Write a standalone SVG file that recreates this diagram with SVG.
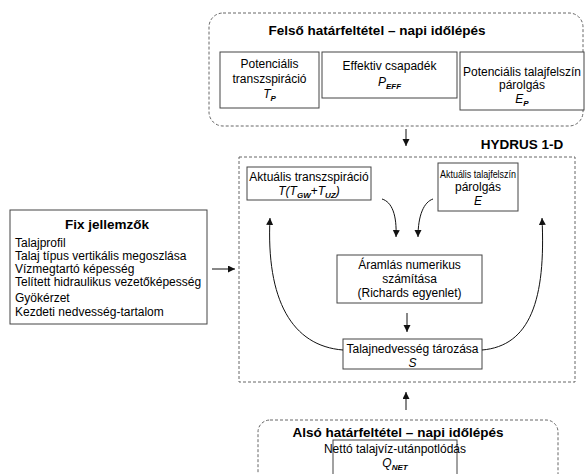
<svg xmlns="http://www.w3.org/2000/svg" width="586" height="474" viewBox="0 0 586 474">
<defs>
<marker id="ah" markerUnits="userSpaceOnUse" markerWidth="8" markerHeight="8" refX="7" refY="3.5" orient="auto">
<path d="M0,0 L7,3.5 L0,7 z" fill="#111"/>
</marker>
<style>
.bx{fill:#fff;stroke:#444;stroke-width:1}
.dash{fill:none;stroke:#666;stroke-width:1;stroke-dasharray:3,2}
.t{font-family:"Liberation Sans",Arial,sans-serif;font-size:12px;fill:#000;text-anchor:middle}
.l{font-family:"Liberation Sans",Arial,sans-serif;font-size:12px;fill:#000}
.h{font-family:"Liberation Sans",Arial,sans-serif;font-size:13.5px;font-weight:bold;fill:#000;text-anchor:middle}
.i{font-style:italic}
.sub{font-size:8px;font-weight:bold;font-style:italic}
.c{fill:none;stroke:#111;stroke-width:1}
</style>
</defs>
<rect width="586" height="474" fill="#fff"/>

<g id="upper-boundary">
<rect class="dash" x="209" y="13" width="374" height="113" rx="14"/>
<text class="h" x="377" y="35">Felső határfeltétel – napi időlépés</text>
</g>
<g id="potential-transpiration">
<rect class="bx" x="220" y="52" width="99" height="56"/>
<text class="t" x="269.5" y="68">Potenciális</text>
<text class="t" x="269.5" y="83">transzspiráció</text>
<text class="t" x="269.5" y="98"><tspan class="i">T</tspan><tspan class="sub" dy="3">P</tspan></text>
</g>
<g id="effective-precipitation">
<rect class="bx" x="322" y="52" width="135" height="46"/>
<text class="t" x="389.5" y="70">Effektiv csapadék</text>
<text class="t" x="389.5" y="86"><tspan class="i">P</tspan><tspan class="sub" dy="3">EFF</tspan></text>
</g>
<g id="potential-evaporation">
<rect class="bx" x="460" y="52" width="124" height="58"/>
<text class="t" x="522" y="76">Potenciális talajfelszín</text>
<text class="t" x="522" y="89">párolgás</text>
<text class="t" x="522" y="103"><tspan class="i">E</tspan><tspan class="sub" dy="3">P</tspan></text>
</g>

<g id="hydrus">
<rect class="dash" x="239" y="157" width="336" height="225"/>
<text class="h" x="522" y="149">HYDRUS 1-D</text>
</g>
<g id="actual-transpiration">
<rect class="bx" x="247" y="167" width="124" height="33"/>
<text class="t" x="309" y="181">Aktuális transzspiráció</text>
<text class="t" x="309" y="195"><tspan class="i">T(T</tspan><tspan class="sub" dy="3">GW</tspan><tspan dy="-3">+</tspan><tspan class="i">T</tspan><tspan class="sub" dy="3">UZ</tspan><tspan class="i" dy="-3">)</tspan></text>
</g>
<g id="actual-evaporation">
<rect class="bx" x="438" y="163" width="80" height="48"/>
<text class="t" x="478" y="178" style="font-size:11.5px" textLength="76" lengthAdjust="spacingAndGlyphs">Aktuális talajfelszín</text>
<text class="t" x="478" y="191">párolgás</text>
<text class="t" x="478" y="205"><tspan class="i">E</tspan></text>
</g>
<g id="flow-calculation">
<rect class="bx" x="337" y="255" width="145" height="48"/>
<text class="t" x="409.5" y="269">Áramlás numerikus</text>
<text class="t" x="409.5" y="283">számítása</text>
<text class="t" x="409.5" y="297">(Richards egyenlet)</text>
</g>
<g id="soil-moisture">
<rect class="bx" x="343" y="339" width="139" height="30"/>
<text class="t" x="412.5" y="353">Talajnedvesség tározása</text>
<text class="t" x="412.5" y="367"><tspan class="i">S</tspan></text>
</g>

<g id="fixed-properties">
<rect class="bx" x="10" y="210" width="197" height="114"/>
<text class="h" x="107" y="229">Fix jellemzők</text>
<text class="l" x="15" y="247">Talajprofil</text>
<text class="l" x="15" y="260">Talaj típus vertikális megoszlása</text>
<text class="l" x="15" y="273">Vízmegtartó képesség</text>
<text class="l" x="15" y="286">Telített hidraulikus vezetőképesség</text>
<text class="l" x="15" y="302">Gyökérzet</text>
<text class="l" x="15" y="316">Kezdeti nedvesség-tartalom</text>
</g>

<g id="lower-boundary">
<rect class="dash" x="258" y="420" width="300" height="70" rx="12"/>
<text class="h" x="398" y="437">Alsó határfeltétel – napi időlépés</text>
</g>
<g id="net-recharge">
<rect class="bx" x="333" y="440" width="124" height="50"/>
<text class="t" x="395" y="453">Nettó talajvíz-utánpotlódás</text>
<text class="t" x="395" y="467"><tspan class="i">Q</tspan><tspan class="sub" dy="3">NET</tspan></text>
</g>

<g id="connectors">
<line class="c" x1="406" y1="129" x2="406" y2="146" marker-end="url(#ah)"/>
<line class="c" x1="212" y1="269" x2="235" y2="269" marker-end="url(#ah)"/>
<line class="c" x1="407" y1="313" x2="407" y2="332" marker-end="url(#ah)"/>
<line class="c" x1="406" y1="410" x2="406" y2="392" marker-end="url(#ah)"/>
<path class="c" d="M382,199 C392,202 397,215 396,237" marker-end="url(#ah)"/>
<path class="c" d="M433,199 C424,202 418,215 418,237" marker-end="url(#ah)"/>
<path class="c" d="M343,350 C292,346 266,300 270,218" marker-end="url(#ah)"/>
<path class="c" d="M482,350 C530,346 546,300 542,218" marker-end="url(#ah)"/>
</g>
</svg>
